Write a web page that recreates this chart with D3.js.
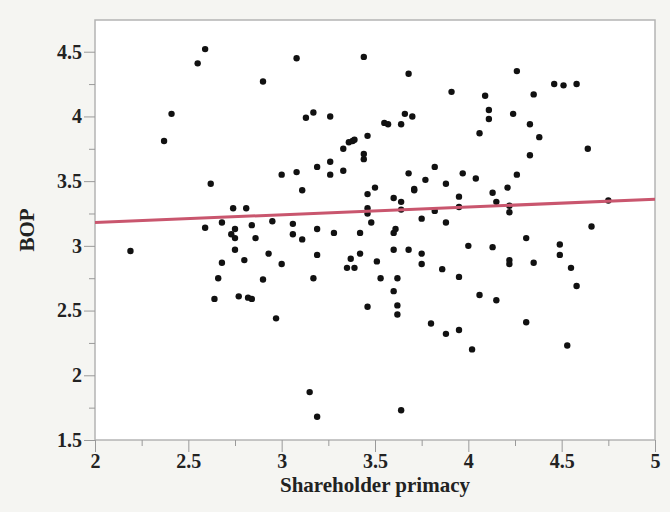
<!DOCTYPE html>
<html>
<head>
<meta charset="utf-8">
<script src="https://cdn.jsdelivr.net/npm/d3@7"></script>
<style>
  html, body { margin: 0; padding: 0; background: #f5f5f2; }
  svg { display: block; }
  .axis text { font-family: "Liberation Serif", serif; font-weight: bold; font-size: 20px; fill: #222; }
  .axis line { stroke: #9a9a9a; }
  .axis path { display: none; }
</style>
</head>
<body>
<svg id="chart" width="670" height="512"></svg>
<script>
// shareholder primacy (x) vs BOP (y)
const primacy = [
  2.19, 2.37, 2.41, 2.55, 2.59, 2.62, 2.59, 2.68, 2.74, 2.81,
  2.73, 2.75, 2.75, 2.84, 2.86, 2.75, 2.93, 2.95, 2.90, 3.00,
  3.06, 3.06, 3.11, 3.08, 3.11, 3.08, 3.13, 3.17, 3.19, 3.19,
  3.19, 3.26, 3.26, 3.26, 3.28, 3.44, 3.33, 3.33, 3.36, 3.38,
  3.39, 3.46, 3.44, 3.44, 3.46, 3.50, 3.46, 3.46, 3.48, 3.42,
  3.68, 3.91, 4.26, 4.09, 4.11, 4.11, 4.24, 4.35, 4.46, 4.51,
  4.58, 4.33, 4.38, 4.33, 4.26, 4.21, 4.64, 4.66, 4.75, 4.06,
  3.66, 3.70, 3.64, 3.55, 3.57, 3.68, 3.82, 3.77, 3.97, 4.04,
  3.88, 3.71, 3.71, 3.60, 3.64, 3.95, 4.13, 4.15, 3.64, 3.82,
  3.95, 4.22, 4.22, 3.75, 3.88, 3.60, 3.61, 4.31, 4.49, 4.00,
  4.13, 3.60, 3.68, 3.75, 3.42, 3.37, 3.35, 3.39, 3.46, 3.51,
  3.75, 3.53, 3.62, 3.60, 3.62, 3.62, 3.86, 3.95, 4.22, 4.22,
  4.06, 4.15, 3.80, 3.88, 3.95, 4.02, 3.64, 4.49, 4.35, 4.55,
  4.58, 4.31, 4.53, 2.68, 2.66, 2.64, 2.80, 2.77, 2.82, 2.84,
  2.90, 2.97, 3.00, 3.17, 3.15, 3.19
];
const bop = [
  2.96, 3.81, 4.02, 4.41, 4.52, 3.48, 3.14, 3.18, 3.29, 3.29,
  3.09, 3.13, 3.06, 3.16, 3.06, 2.97, 2.94, 3.19, 4.27, 3.55,
  3.17, 3.09, 3.05, 3.57, 3.43, 4.45, 3.99, 4.03, 3.61, 3.13,
  2.93, 4.00, 3.65, 3.55, 3.10, 4.46, 3.58, 3.75, 3.80, 3.81,
  3.82, 3.85, 3.71, 3.67, 3.40, 3.45, 3.29, 3.25, 3.18, 3.10,
  4.33, 4.19, 4.35, 4.16, 4.05, 3.98, 4.02, 4.17, 4.25, 4.24,
  4.25, 3.94, 3.84, 3.70, 3.55, 3.45, 3.75, 3.15, 3.35, 3.87,
  4.02, 4.00, 3.94, 3.95, 3.94, 3.56, 3.61, 3.51, 3.56, 3.52,
  3.48, 3.44, 3.43, 3.37, 3.34, 3.38, 3.41, 3.34, 3.28, 3.27,
  3.30, 3.31, 3.26, 3.21, 3.18, 3.10, 3.13, 3.06, 3.01, 3.00,
  2.99, 2.97, 2.97, 2.94, 2.94, 2.90, 2.83, 2.83, 2.53, 2.88,
  2.86, 2.75, 2.75, 2.65, 2.54, 2.47, 2.82, 2.76, 2.89, 2.86,
  2.62, 2.58, 2.40, 2.32, 2.35, 2.20, 1.73, 2.93, 2.87, 2.83,
  2.69, 2.41, 2.23, 2.87, 2.75, 2.59, 2.89, 2.61, 2.60, 2.59,
  2.74, 2.44, 2.86, 2.75, 1.87, 1.68
];

// fitted line, end points
const fitX = [2, 5];
const fitY = [3.18, 3.36];

const xMajor = [2, 2.5, 3, 3.5, 4, 4.5, 5];
const xMinor = [2.25, 2.75, 3.25, 3.75, 4.25, 4.75];
const yMajor = [1.5, 2, 2.5, 3, 3.5, 4, 4.5];
const yMinor = [1.75, 2.25, 2.75, 3.25, 3.75, 4.25];

const svg = d3.select('#chart');
const margin = { top: 20, right: 15, bottom: 72, left: 95 };
const width = 670 - margin.left - margin.right;
const height = 512 - margin.top - margin.bottom;

const x = d3.scaleLinear().domain([2, 5]).range([0, width]);
const y = d3.scaleLinear().domain([1.5, 4.745]).range([height, 0]);

const g = svg.append('g')
    .attr('transform', `translate(${margin.left},${margin.top})`);

g.append('rect')
    .attr('width', width)
    .attr('height', height)
    .attr('fill', '#fff')
    .attr('stroke', '#b4b4b4')
    .attr('stroke-width', 1.5);

// minor ticks first, then major ones with labels
g.append('g')
    .attr('class', 'axis')
    .attr('transform', `translate(0,${height})`)
    .call(d3.axisBottom(x).tickValues(xMinor).tickSize(6).tickSizeOuter(0).tickFormat(''));

g.append('g')
    .attr('class', 'axis')
    .attr('transform', `translate(0,${height})`)
    .call(d3.axisBottom(x).tickValues(xMajor).tickSize(12).tickSizeOuter(0).tickPadding(2)
        .tickFormat(d3.format('')));

g.append('g')
    .attr('class', 'axis')
    .call(d3.axisLeft(y).tickValues(yMinor).tickSize(6).tickSizeOuter(0).tickFormat(''));

g.append('g')
    .attr('class', 'axis')
    .call(d3.axisLeft(y).tickValues(yMajor).tickSize(11).tickSizeOuter(0).tickPadding(2)
        .tickFormat(d3.format('')));

const points = primacy.map((d, i) => [d, bop[i]]);

g.append('g')
    .selectAll('circle')
    .data(points)
    .enter()
    .append('circle')
    .attr('cx', (d) => x(d[0]))
    .attr('cy', (d) => y(d[1]))
    .attr('r', 3.2)
    .attr('fill', '#111');

const line = d3.line()
    .x((d) => x(d[0]))
    .y((d) => y(d[1]));

g.append('path')
    .datum(fitX.map((d, i) => [d, fitY[i]]))
    .attr('d', line)
    .attr('fill', 'none')
    .attr('stroke', '#c9566e')
    .attr('stroke-width', 3);

// axis titles
svg.append('text')
    .attr('x', margin.left + width / 2)
    .attr('y', 492)
    .attr('text-anchor', 'middle')
    .style('font', 'bold 21px "Liberation Serif", serif')
    .style('fill', '#222')
    .text('Shareholder primacy');

svg.append('text')
    .attr('transform', `translate(34,${margin.top + height / 2}) rotate(-90)`)
    .attr('text-anchor', 'middle')
    .style('font', 'bold 21px "Liberation Serif", serif')
    .style('fill', '#222')
    .text('BOP');
</script>
</body>
</html>
